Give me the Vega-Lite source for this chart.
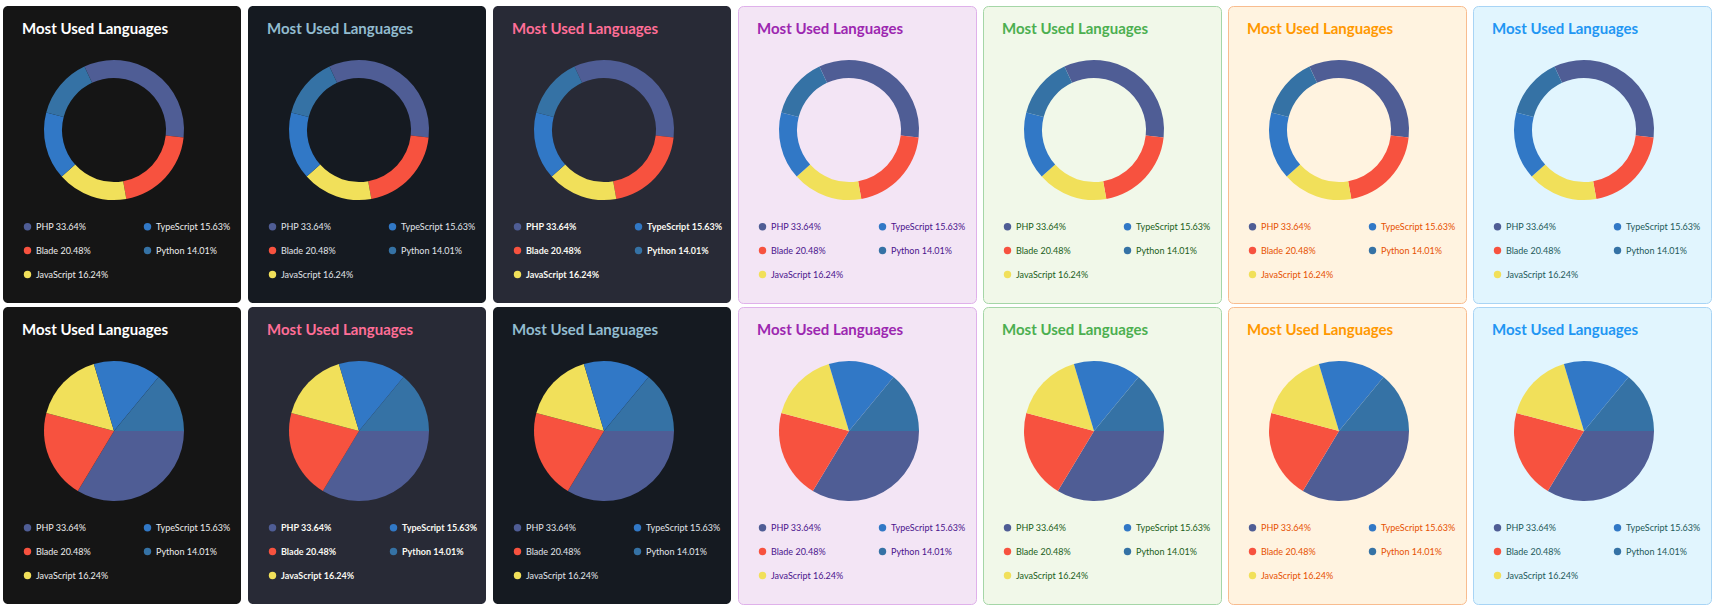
{
  "$schema": "https://vega.github.io/schema/vega-lite/v6.json",
  "description": "Most used languages cards, donut row and pie row in seven themes.",
  "background": "#ffffff",
  "padding": {"left": 3, "top": 5, "right": 2, "bottom": 3},
  "data": {
    "values": [
      {"language": "PHP", "share": 33.64, "label": "PHP 33.64%"},
      {"language": "Blade", "share": 20.48, "label": "Blade 20.48%"},
      {"language": "JavaScript", "share": 16.24, "label": "JavaScript 16.24%"},
      {"language": "TypeScript", "share": 15.63, "label": "TypeScript 15.63%"},
      {"language": "Python", "share": 14.01, "label": "Python 14.01%"}
    ]
  },
  "spacing": 2,
  "resolve": {"scale": {"color": "independent", "theta": "independent"}, "legend": {"color": "independent"}},
  "vconcat": [
    {
      "spacing": 7,
      "bounds": "flush",
      "resolve": {"scale": {"color": "independent", "theta": "independent"}, "legend": {"color": "independent"}},
      "hconcat": [
        {
          "width": 238, "height": 297,
          "view": {"fill": "#151515", "stroke": null, "cornerRadius": 5},
          "title": {"text": "Most Used Languages", "color": "#ffffff"},
          "mark": {"type": "arc", "innerRadius": 52, "outerRadius": 70, "x": 111, "y": 124},
          "encoding": {
            "theta": {"field": "share", "type": "quantitative", "stack": true, "scale": {"range": [-0.436, 5.847]}},
            "order": {"field": "share", "sort": "descending"},
            "color": {"field": "label", "type": "nominal",
              "scale": {"domain": ["PHP 33.64%", "Blade 20.48%", "JavaScript 16.24%", "TypeScript 15.63%", "Python 14.01%"], "range": ["#4f5d95", "#f7523f", "#f1e05a", "#3178c6", "#3572a5"]},
              "legend": {"title": null, "orient": "none", "legendX": 20, "legendY": 216, "labelColor": "#ececec"}}
          }
        },
        {
          "width": 238, "height": 297,
          "view": {"fill": "#151a21", "stroke": null, "cornerRadius": 5},
          "title": {"text": "Most Used Languages", "color": "#92bccf"},
          "mark": {"type": "arc", "innerRadius": 52, "outerRadius": 70, "x": 111, "y": 124},
          "encoding": {
            "theta": {"field": "share", "type": "quantitative", "stack": true, "scale": {"range": [-0.436, 5.847]}},
            "order": {"field": "share", "sort": "descending"},
            "color": {"field": "label", "type": "nominal",
              "scale": {"domain": ["PHP 33.64%", "Blade 20.48%", "JavaScript 16.24%", "TypeScript 15.63%", "Python 14.01%"], "range": ["#4f5d95", "#f7523f", "#f1e05a", "#3178c6", "#3572a5"]},
              "legend": {"title": null, "orient": "none", "legendX": 20, "legendY": 216, "labelColor": "#e0e4ea"}}
          }
        },
        {
          "width": 238, "height": 297,
          "view": {"fill": "#282a36", "stroke": null, "cornerRadius": 5},
          "title": {"text": "Most Used Languages", "color": "#ff6e96"},
          "mark": {"type": "arc", "innerRadius": 52, "outerRadius": 70, "x": 111, "y": 124},
          "encoding": {
            "theta": {"field": "share", "type": "quantitative", "stack": true, "scale": {"range": [-0.436, 5.847]}},
            "order": {"field": "share", "sort": "descending"},
            "color": {"field": "label", "type": "nominal",
              "scale": {"domain": ["PHP 33.64%", "Blade 20.48%", "JavaScript 16.24%", "TypeScript 15.63%", "Python 14.01%"], "range": ["#4f5d95", "#f7523f", "#f1e05a", "#3178c6", "#3572a5"]},
              "legend": {"title": null, "orient": "none", "legendX": 20, "legendY": 216, "labelColor": "#f8f8f2", "labelFontWeight": "bold"}}
          }
        },
        {
          "width": 238, "height": 297,
          "view": {"fill": "#f3e5f5", "stroke": "#dfb1ea", "cornerRadius": 5},
          "title": {"text": "Most Used Languages", "color": "#9c27b0"},
          "mark": {"type": "arc", "innerRadius": 52, "outerRadius": 70, "x": 111, "y": 124},
          "encoding": {
            "theta": {"field": "share", "type": "quantitative", "stack": true, "scale": {"range": [-0.436, 5.847]}},
            "order": {"field": "share", "sort": "descending"},
            "color": {"field": "label", "type": "nominal",
              "scale": {"domain": ["PHP 33.64%", "Blade 20.48%", "JavaScript 16.24%", "TypeScript 15.63%", "Python 14.01%"], "range": ["#4f5d95", "#f7523f", "#f1e05a", "#3178c6", "#3572a5"]},
              "legend": {"title": null, "orient": "none", "legendX": 20, "legendY": 216, "labelColor": "#4a148c"}}
          }
        },
        {
          "width": 238, "height": 297,
          "view": {"fill": "#f1f8e9", "stroke": "#a5d6a7", "cornerRadius": 5},
          "title": {"text": "Most Used Languages", "color": "#4caf50"},
          "mark": {"type": "arc", "innerRadius": 52, "outerRadius": 70, "x": 111, "y": 124},
          "encoding": {
            "theta": {"field": "share", "type": "quantitative", "stack": true, "scale": {"range": [-0.436, 5.847]}},
            "order": {"field": "share", "sort": "descending"},
            "color": {"field": "label", "type": "nominal",
              "scale": {"domain": ["PHP 33.64%", "Blade 20.48%", "JavaScript 16.24%", "TypeScript 15.63%", "Python 14.01%"], "range": ["#4f5d95", "#f7523f", "#f1e05a", "#3178c6", "#3572a5"]},
              "legend": {"title": null, "orient": "none", "legendX": 20, "legendY": 216, "labelColor": "#1b5e20"}}
          }
        },
        {
          "width": 238, "height": 297,
          "view": {"fill": "#fff3e0", "stroke": "#f8bc8f", "cornerRadius": 5},
          "title": {"text": "Most Used Languages", "color": "#ff9800"},
          "mark": {"type": "arc", "innerRadius": 52, "outerRadius": 70, "x": 111, "y": 124},
          "encoding": {
            "theta": {"field": "share", "type": "quantitative", "stack": true, "scale": {"range": [-0.436, 5.847]}},
            "order": {"field": "share", "sort": "descending"},
            "color": {"field": "label", "type": "nominal",
              "scale": {"domain": ["PHP 33.64%", "Blade 20.48%", "JavaScript 16.24%", "TypeScript 15.63%", "Python 14.01%"], "range": ["#4f5d95", "#f7523f", "#f1e05a", "#3178c6", "#3572a5"]},
              "legend": {"title": null, "orient": "none", "legendX": 20, "legendY": 216, "labelColor": "#e65100"}}
          }
        },
        {
          "width": 238, "height": 297,
          "view": {"fill": "#e1f5fe", "stroke": "#a8d4f5", "cornerRadius": 5},
          "title": {"text": "Most Used Languages", "color": "#2196f3"},
          "mark": {"type": "arc", "innerRadius": 52, "outerRadius": 70, "x": 111, "y": 124},
          "encoding": {
            "theta": {"field": "share", "type": "quantitative", "stack": true, "scale": {"range": [-0.436, 5.847]}},
            "order": {"field": "share", "sort": "descending"},
            "color": {"field": "label", "type": "nominal",
              "scale": {"domain": ["PHP 33.64%", "Blade 20.48%", "JavaScript 16.24%", "TypeScript 15.63%", "Python 14.01%"], "range": ["#4f5d95", "#f7523f", "#f1e05a", "#3178c6", "#3572a5"]},
              "legend": {"title": null, "orient": "none", "legendX": 20, "legendY": 216, "labelColor": "#1e5a5a"}}
          }
        }
      ]
    },
    {
      "spacing": 7,
      "bounds": "flush",
      "resolve": {"scale": {"color": "independent", "theta": "independent"}, "legend": {"color": "independent"}},
      "hconcat": [
        {
          "width": 238, "height": 297,
          "view": {"fill": "#151515", "stroke": null, "cornerRadius": 5},
          "title": {"text": "Most Used Languages", "color": "#ffffff"},
          "mark": {"type": "arc", "outerRadius": 70, "x": 111, "y": 124},
          "encoding": {
            "theta": {"field": "share", "type": "quantitative", "stack": true, "scale": {"range": [1.5708, 7.854]}},
            "order": {"field": "share", "sort": "descending"},
            "color": {"field": "label", "type": "nominal",
              "scale": {"domain": ["PHP 33.64%", "Blade 20.48%", "JavaScript 16.24%", "TypeScript 15.63%", "Python 14.01%"], "range": ["#4f5d95", "#f7523f", "#f1e05a", "#3178c6", "#3572a5"]},
              "legend": {"title": null, "orient": "none", "legendX": 20, "legendY": 216, "labelColor": "#ececec"}}
          }
        },
        {
          "width": 238, "height": 297,
          "view": {"fill": "#282a36", "stroke": null, "cornerRadius": 5},
          "title": {"text": "Most Used Languages", "color": "#ff6e96"},
          "mark": {"type": "arc", "outerRadius": 70, "x": 111, "y": 124},
          "encoding": {
            "theta": {"field": "share", "type": "quantitative", "stack": true, "scale": {"range": [1.5708, 7.854]}},
            "order": {"field": "share", "sort": "descending"},
            "color": {"field": "label", "type": "nominal",
              "scale": {"domain": ["PHP 33.64%", "Blade 20.48%", "JavaScript 16.24%", "TypeScript 15.63%", "Python 14.01%"], "range": ["#4f5d95", "#f7523f", "#f1e05a", "#3178c6", "#3572a5"]},
              "legend": {"title": null, "orient": "none", "legendX": 20, "legendY": 216, "labelColor": "#f8f8f2", "labelFontWeight": "bold"}}
          }
        },
        {
          "width": 238, "height": 297,
          "view": {"fill": "#151a21", "stroke": null, "cornerRadius": 5},
          "title": {"text": "Most Used Languages", "color": "#92bccf"},
          "mark": {"type": "arc", "outerRadius": 70, "x": 111, "y": 124},
          "encoding": {
            "theta": {"field": "share", "type": "quantitative", "stack": true, "scale": {"range": [1.5708, 7.854]}},
            "order": {"field": "share", "sort": "descending"},
            "color": {"field": "label", "type": "nominal",
              "scale": {"domain": ["PHP 33.64%", "Blade 20.48%", "JavaScript 16.24%", "TypeScript 15.63%", "Python 14.01%"], "range": ["#4f5d95", "#f7523f", "#f1e05a", "#3178c6", "#3572a5"]},
              "legend": {"title": null, "orient": "none", "legendX": 20, "legendY": 216, "labelColor": "#e0e4ea"}}
          }
        },
        {
          "width": 238, "height": 297,
          "view": {"fill": "#f3e5f5", "stroke": "#dfb1ea", "cornerRadius": 5},
          "title": {"text": "Most Used Languages", "color": "#9c27b0"},
          "mark": {"type": "arc", "outerRadius": 70, "x": 111, "y": 124},
          "encoding": {
            "theta": {"field": "share", "type": "quantitative", "stack": true, "scale": {"range": [1.5708, 7.854]}},
            "order": {"field": "share", "sort": "descending"},
            "color": {"field": "label", "type": "nominal",
              "scale": {"domain": ["PHP 33.64%", "Blade 20.48%", "JavaScript 16.24%", "TypeScript 15.63%", "Python 14.01%"], "range": ["#4f5d95", "#f7523f", "#f1e05a", "#3178c6", "#3572a5"]},
              "legend": {"title": null, "orient": "none", "legendX": 20, "legendY": 216, "labelColor": "#4a148c"}}
          }
        },
        {
          "width": 238, "height": 297,
          "view": {"fill": "#f1f8e9", "stroke": "#a5d6a7", "cornerRadius": 5},
          "title": {"text": "Most Used Languages", "color": "#4caf50"},
          "mark": {"type": "arc", "outerRadius": 70, "x": 111, "y": 124},
          "encoding": {
            "theta": {"field": "share", "type": "quantitative", "stack": true, "scale": {"range": [1.5708, 7.854]}},
            "order": {"field": "share", "sort": "descending"},
            "color": {"field": "label", "type": "nominal",
              "scale": {"domain": ["PHP 33.64%", "Blade 20.48%", "JavaScript 16.24%", "TypeScript 15.63%", "Python 14.01%"], "range": ["#4f5d95", "#f7523f", "#f1e05a", "#3178c6", "#3572a5"]},
              "legend": {"title": null, "orient": "none", "legendX": 20, "legendY": 216, "labelColor": "#1b5e20"}}
          }
        },
        {
          "width": 238, "height": 297,
          "view": {"fill": "#fff3e0", "stroke": "#f8bc8f", "cornerRadius": 5},
          "title": {"text": "Most Used Languages", "color": "#ff9800"},
          "mark": {"type": "arc", "outerRadius": 70, "x": 111, "y": 124},
          "encoding": {
            "theta": {"field": "share", "type": "quantitative", "stack": true, "scale": {"range": [1.5708, 7.854]}},
            "order": {"field": "share", "sort": "descending"},
            "color": {"field": "label", "type": "nominal",
              "scale": {"domain": ["PHP 33.64%", "Blade 20.48%", "JavaScript 16.24%", "TypeScript 15.63%", "Python 14.01%"], "range": ["#4f5d95", "#f7523f", "#f1e05a", "#3178c6", "#3572a5"]},
              "legend": {"title": null, "orient": "none", "legendX": 20, "legendY": 216, "labelColor": "#e65100"}}
          }
        },
        {
          "width": 238, "height": 297,
          "view": {"fill": "#e1f5fe", "stroke": "#a8d4f5", "cornerRadius": 5},
          "title": {"text": "Most Used Languages", "color": "#2196f3"},
          "mark": {"type": "arc", "outerRadius": 70, "x": 111, "y": 124},
          "encoding": {
            "theta": {"field": "share", "type": "quantitative", "stack": true, "scale": {"range": [1.5708, 7.854]}},
            "order": {"field": "share", "sort": "descending"},
            "color": {"field": "label", "type": "nominal",
              "scale": {"domain": ["PHP 33.64%", "Blade 20.48%", "JavaScript 16.24%", "TypeScript 15.63%", "Python 14.01%"], "range": ["#4f5d95", "#f7523f", "#f1e05a", "#3178c6", "#3572a5"]},
              "legend": {"title": null, "orient": "none", "legendX": 20, "legendY": 216, "labelColor": "#1e5a5a"}}
          }
        }
      ]
    }
  ],
  "config": {
    "font": "Lato",
    "title": {"font": "Lato", "fontSize": 15, "fontWeight": "bold", "anchor": "start", "frame": "group", "offset": -31, "dx": 19, "baseline": "alphabetic"},
    "legend": {"columns": 2, "symbolType": "circle", "symbolSize": 55, "symbolStrokeWidth": 0, "labelFont": "Lato", "labelFontSize": 9, "labelOffset": 4, "rowPadding": 14, "columnPadding": 34, "padding": 0, "labelLimit": 200}
  }
}
